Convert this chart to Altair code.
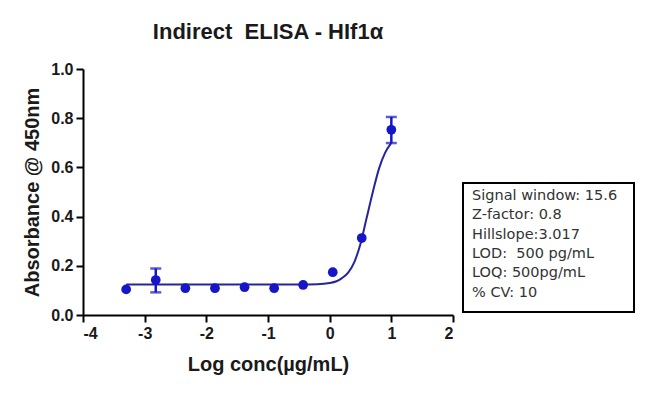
import altair as alt
import pandas as pd

# Data
log_conc = [-3.30, -2.82, -2.34, -1.86, -1.38, -0.90, -0.43, 0.05, 0.52, 1.00]
absorbance = [0.104, 0.142, 0.109, 0.109, 0.113, 0.109, 0.122, 0.174, 0.313, 0.753]

err_x = [-2.82, 1.00]
err_lo = [0.092, 0.699]
err_hi = [0.189, 0.805]

curve_x = [-3.3, -2.0, -1.0, -0.5, -0.2, 0.0, 0.1, 0.2, 0.3, 0.4, 0.5, 0.6, 0.7, 0.8, 0.9, 1.0]
curve_y = [0.124, 0.124, 0.124, 0.124, 0.125, 0.130, 0.136, 0.150, 0.172, 0.215, 0.290, 0.395, 0.500, 0.595, 0.660, 0.700]

stats_lines = ["Signal window: 15.6", "Z-factor: 0.8", "Hillslope:3.017",
               "LOD:\u00a0 500 pg/mL", "LOQ: 500pg/mL", "% CV: 10"]

chart_title = "Indirect\u00a0 ELISA - HIf1α"

x_ticks = [-4, -3, -2, -1, 0, 1, 2]
y_ticks = [0.0, 0.2, 0.4, 0.6, 0.8, 1.0]

pts = pd.DataFrame({"x": log_conc, "y": absorbance})
errs = pd.DataFrame({"x": err_x, "lo": err_lo, "hi": err_hi})
curve = pd.DataFrame({"x": curve_x, "y": curve_y})
one = pd.DataFrame({"a": [0]})

POINT = "#1616c8"
LINE = "#25259c"

xscale = alt.Scale(domain=[-4, 2], nice=False, zero=False)
yscale = alt.Scale(domain=[0, 1], nice=False)

XT = "Log conc(µg/mL)"
YT = "Absorbance @ 450nm"

xaxis = alt.Axis(values=x_ticks, title=XT,
                 labelExpr="datum.value < 0 ? '-' + abs(datum.value) : '' + datum.value",
                 titleY=55, titleBaseline="alphabetic", labelPadding=3)
yaxis = alt.Axis(values=y_ticks, title=YT, format=".1f",
                 titleX=-51, titleY=123, titleBaseline="middle", titleAlign="center",
                 labelPadding=3)

line = alt.Chart(curve).mark_line(color=LINE, strokeWidth=2, interpolate="monotone").encode(
    x=alt.X("x:Q", scale=xscale, axis=xaxis, title=XT),
    y=alt.Y("y:Q", scale=yscale, axis=yaxis, title=YT),
)

bars = alt.Chart(errs).mark_errorbar(color=POINT, ticks=alt.MarkConfig(size=11, strokeWidth=2.5),
                                     thickness=2.5).encode(
    x=alt.X("x:Q", scale=xscale, title=XT),
    y=alt.Y("lo:Q", scale=yscale, title=YT),
    y2="hi:Q",
)

points = alt.Chart(pts).mark_circle(color=POINT, opacity=1, size=95).encode(
    x=alt.X("x:Q", scale=xscale, title=XT),
    y=alt.Y("y:Q", scale=yscale, title=YT),
)

box = alt.Chart(one).mark_rect(fill="white", stroke="black", strokeWidth=2).encode(
    x=alt.value(380), x2=alt.value(551), y=alt.value(114), y2=alt.value(243)
)

stats = alt.Chart(one).mark_text(
    text=stats_lines, align="left", baseline="middle", lineHeight=19.3,
    font="DejaVu Sans", fontSize=14.5, color="#333333"
).encode(x=alt.value(389), y=alt.value(127))

title = alt.Chart(one).mark_text(
    text=chart_title, align="center", baseline="alphabetic",
    font="Liberation Sans", fontSize=22, fontWeight="bold", color="#1a1a1a"
).encode(x=alt.value(185), y=alt.value(-30))

chart = alt.layer(box, stats, title, line, bars, points).properties(
    width=370, height=246,
    autosize=alt.AutoSizeParams(type="none"),
    padding={"left": 75, "top": 61, "right": 185, "bottom": 70},
).configure_view(stroke=None).configure_axis(
    grid=False, domainColor="black", domainWidth=2, tickColor="black", tickWidth=2,
    tickSize=7, labelFont="Liberation Sans", labelFontSize=16, labelFontWeight="bold",
    labelColor="#1a1a1a", titleFont="Liberation Sans", titleFontSize=20,
    titleFontWeight="bold", titleColor="#1a1a1a"
)

chart.save("out.html", embed_options={"renderer": "svg", "actions": False})
